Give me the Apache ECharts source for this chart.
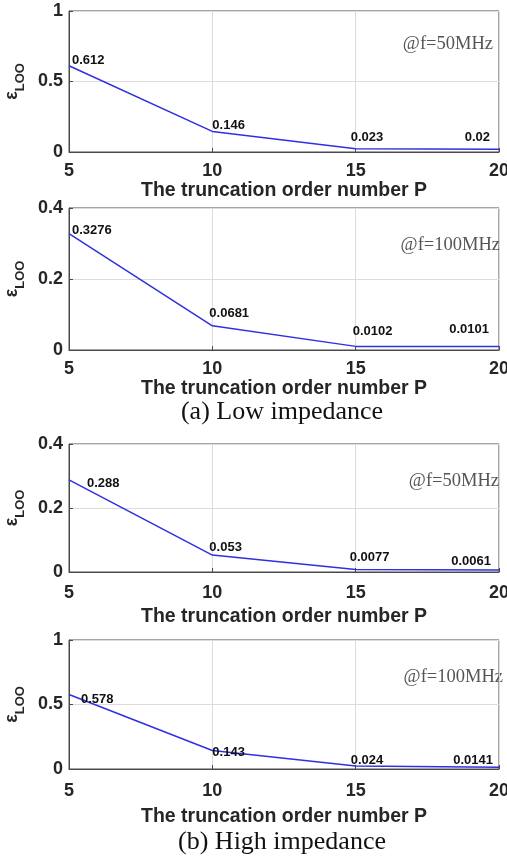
<!DOCTYPE html>
<html>
<head>
<meta charset="utf-8">
<script src="https://cdn.jsdelivr.net/npm/echarts@6/dist/echarts.min.js"></script>
<style>
  html, body { margin: 0; padding: 0; background: #fff; }
  #chart { width: 507px; height: 865px; }
</style>
</head>
<body>
<div id="chart"></div>
<script>
// Truncation order P on the x axis
const orders = [5, 10, 15, 20];

// LOO error for each case
const lowZ50 = [0.612, 0.146, 0.023, 0.02];
const lowZ100 = [0.3276, 0.0681, 0.0102, 0.0101];
const highZ50 = [0.288, 0.053, 0.0077, 0.0061];
const highZ100 = [0.578, 0.143, 0.024, 0.0141];

// y-axis ranges and tick steps per panel
const yMax = [1, 0.4, 0.4, 1];
const yStep = [0.5, 0.2, 0.2, 0.5];

const frequencyNotes = ['@f=50MHz', '@f=100MHz', '@f=50MHz', '@f=100MHz'];
const captions = ['(a) Low impedance', '(b) High impedance'];
const xTitle = 'The truncation order number P';

// ---- layout / style ----
const SANS = '"Liberation Sans", Arial, sans-serif';
const SERIF = '"Liberation Serif", "Times New Roman", serif';
const INK = '#262626';
const FRAME = '#4a4a4a';
const LINE_BLUE = '#3030e0';

const panels = [
  { top: 11, height: 141, nameGap: 24, labelMargin: 10 },
  { top: 208, height: 142, nameGap: 19, labelMargin: 10 },
  { top: 444, height: 128, nameGap: 35, labelMargin: 12 },
  { top: 640, height: 129, nameGap: 38, labelMargin: 13 }
];
const LEFT = 69, WIDTH = 430;

// where each value label sits relative to its point: [dx, dy, align]
const labelNudge = [
  [[3, -5, 'left'], [0, -6, 'left'], [-5, -11, 'left'], [-9, -12, 'right']],
  [[3, -3, 'left'], [-3, -12, 'left'], [-3, -15, 'left'], [-10, -17, 'right']],
  [[18, 4, 'left'], [-3, -8, 'left'], [-6, -12, 'left'], [-8, -9, 'right']],
  [[12, 5, 'left'], [0, 2, 'left'], [-5, -5, 'left'], [-6, -7, 'right']]
];

const seriesValues = [lowZ50, lowZ100, highZ50, highZ100];

const grids = [], xAxes = [], yAxes = [], series = [], graphics = [];

panels.forEach((p, i) => {
  grids.push({
    left: LEFT, top: p.top, width: WIDTH, height: p.height,
    outerBoundsMode: 'none', containLabel: false,
    show: true, borderColor: FRAME, borderWidth: 1, backgroundColor: 'transparent'
  });
  xAxes.push({
    gridIndex: i, type: 'value', min: 5, max: 20, interval: 5,
    name: xTitle, nameLocation: 'middle', nameGap: p.nameGap,
    nameTextStyle: { fontFamily: SANS, fontWeight: 'bold', fontSize: 19.5, color: INK },
    axisLine: { show: true, lineStyle: { color: FRAME, width: 1 } },
    axisTick: { show: true, inside: true, length: 4, lineStyle: { color: FRAME } },
    axisLabel: { fontFamily: SANS, fontWeight: 'bold', fontSize: 18, color: INK, margin: p.labelMargin },
    splitLine: { show: true, lineStyle: { color: '#dcdcdc', width: 1 } }
  });
  yAxes.push({
    gridIndex: i, type: 'value', min: 0, max: yMax[i], interval: yStep[i],
    name: '{e|ε}{s|LOO}', nameLocation: 'middle', nameGap: 42, nameRotate: 90,
    nameTextStyle: {
      color: INK,
      rich: {
        e: { fontFamily: SANS, fontWeight: 'bold', fontSize: 18, color: INK, verticalAlign: 'top', lineHeight: 24 },
        s: { fontFamily: SANS, fontWeight: 'bold', fontSize: 13, color: INK, verticalAlign: 'bottom', lineHeight: 24, padding: [9, 0, 0, 0] }
      }
    },
    axisLine: { show: true, lineStyle: { color: FRAME, width: 1 } },
    axisTick: { show: true, inside: true, length: 4, lineStyle: { color: FRAME } },
    axisLabel: { fontFamily: SANS, fontWeight: 'bold', fontSize: 18, color: INK, margin: 6 },
    splitLine: { show: true, lineStyle: { color: '#dcdcdc', width: 1 } }
  });
  series.push({
    type: 'line', xAxisIndex: i, yAxisIndex: i,
    symbol: 'circle', symbolSize: 1,
    itemStyle: { color: 'rgba(0,0,0,0)' },
    lineStyle: { color: LINE_BLUE, width: 1.5 },
    animation: false,
    data: orders.map((x, k) => {
      const [dx, dy, align] = labelNudge[i][k];
      return {
        value: [x, seriesValues[i][k]],
        label: { align: align, offset: [dx, dy] }
      };
    }),
    label: {
      show: true, position: 'inside', verticalAlign: 'middle',
      fontFamily: SANS, fontWeight: 'bold', fontSize: 13, color: '#111',
      formatter: (d) => String(d.value[1])
    }
  });
});

// frequency notes in the upper right of each panel
const noteRight = [493, 500, 499, 503];
const noteY = [45, 246, 482, 678];
frequencyNotes.forEach((t, i) => {
  graphics.push({
    type: 'text', right: 507 - noteRight[i], top: noteY[i] - 10,
    style: { text: t, font: '18.5px ' + SERIF, fill: '#555', textAlign: 'right' }
  });
});

// sub-figure captions, centred under the plot area
const captionY = [412, 842];
captions.forEach((t, i) => {
  graphics.push({
    type: 'text', x: 282, y: captionY[i],
    style: { text: t, font: '26px ' + SERIF, fill: '#111', textAlign: 'center', textVerticalAlign: 'middle' }
  });
});

const chart = echarts.init(document.getElementById('chart'), null, { renderer: 'canvas' });
chart.setOption({
  backgroundColor: '#fff',
  animation: false,
  grid: grids,
  xAxis: xAxes,
  yAxis: yAxes,
  series: series,
  graphic: graphics
});
</script>
</body>
</html>
